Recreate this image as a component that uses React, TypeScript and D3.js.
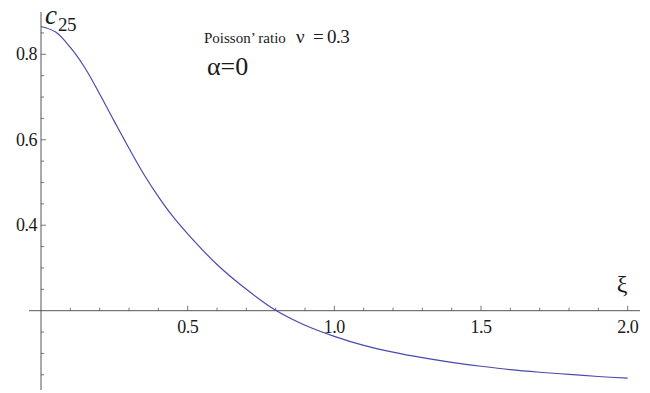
import React from "react";
import * as d3 from "d3";

// c25 as a function of ξ (Poisson ratio ν = 0.3, α = 0)
const xi = [0, 0.05, 0.1, 0.15, 0.2, 0.25, 0.3, 0.35, 0.4, 0.45, 0.5, 0.6, 0.7, 0.8, 0.9, 1.0, 1.1, 1.2, 1.3, 1.4, 1.5, 1.6, 1.7, 1.8, 1.9, 2.0];
const c25 = [0.865, 0.852, 0.816, 0.768, 0.707, 0.643, 0.58, 0.52, 0.467, 0.42, 0.38, 0.308, 0.25, 0.201, 0.166, 0.14, 0.119, 0.103, 0.09, 0.079, 0.07, 0.062, 0.056, 0.051, 0.046, 0.042];

const xMajorTicks = [0.5, 1.0, 1.5, 2.0];
const yMajorTicks = [0.4, 0.6, 0.8];
const xMinorStep = 0.1;
const yMinorStep = 0.05;
const axisOriginY = 0.2;

const W = 650;
const H = 393;

const SERIF = "Liberation Serif";

export default function App() {
  const x = d3.scaleLinear().domain([0, 2]).range([41, 627.7]);
  const y = d3.scaleLinear().domain([0.2, 0.8]).range([310.7, 54.3]);
  const xDomainAxis: [number, number] = [x.invert(29), x.invert(640)];
  const yDomainAxis: [number, number] = [y.invert(390), y.invert(12)];

  const pts = xi.map((v, i) => [v, c25[i]] as [number, number]);
  const line = d3
    .line<[number, number]>()
    .x((d) => x(d[0]))
    .y((d) => y(d[1]))
    .curve(d3.curveCatmullRom.alpha(0.5));

  const xMinor = d3.range(1, 21).map((k) => k * xMinorStep);
  const yMinor = d3
    .range(1, 18)
    .map((k) => k * yMinorStep)
    .filter((v) => Math.abs(v - axisOriginY) > 1e-6 && v >= yDomainAxis[0] && v <= yDomainAxis[1]);

  const axisColor = "#555";
  const y0 = y(axisOriginY);
  const x0 = x(0);

  return (
    <svg width={W} height={H} style={{ position: "absolute", left: 0, top: 0, background: "#fff" }}>
      {/* x axis */}
      <line x1={x(xDomainAxis[0])} x2={x(xDomainAxis[1])} y1={y0} y2={y0} stroke={axisColor} strokeWidth={1} />
      {xMinor.map((v, i) => {
        const major = xMajorTicks.some((m) => Math.abs(m - v) < 1e-6);
        return (
          <line key={"xm" + i} x1={x(v)} x2={x(v)} y1={y0} y2={y0 - (major ? 5 : 3)} stroke={axisColor} strokeWidth={0.8} />
        );
      })}
      {xMajorTicks.map((v) => (
        <text key={"xl" + v} x={x(v)} y={y0 + 22} textAnchor="middle" fontSize={18} fill="#1a1a1a" fontFamily={SERIF} letterSpacing={-0.5}>
          {v.toFixed(1)}
        </text>
      ))}

      {/* y axis */}
      <line x1={x0} x2={x0} y1={y(yDomainAxis[0])} y2={y(yDomainAxis[1])} stroke={axisColor} strokeWidth={1} />
      {yMinor.map((v, i) => {
        const major = yMajorTicks.some((m) => Math.abs(m - v) < 1e-6);
        return (
          <line key={"ym" + i} x1={x0} x2={x0 + (major ? 5 : 3)} y1={y(v)} y2={y(v)} stroke={axisColor} strokeWidth={0.8} />
        );
      })}
      {yMajorTicks.map((v) => (
        <text key={"yl" + v} x={x0 - 4} y={y(v) + 6} textAnchor="end" fontSize={18} fill="#1a1a1a" fontFamily={SERIF} letterSpacing={-0.5}>
          {v.toFixed(1)}
        </text>
      ))}

      {/* curve */}
      <path d={line(pts) || ""} fill="none" stroke="#4a4aae" strokeWidth={1.2} />

      {/* axis labels */}
      <text x={45} y={24} fontSize={27} fontStyle="italic" fill="#1a1a1a" fontFamily={SERIF}>
        c
      </text>
      <text x={58} y={31} fontSize={19} fill="#1a1a1a" fontFamily={SERIF} letterSpacing={-0.5}>
        25
      </text>
      <text x={622} y={292} textAnchor="middle" fontSize={24} fill="#1a1a1a" fontFamily={SERIF}>ξ</text>

      {/* annotations */}
      <text x={204} y={43} fontSize={15} fill="#1a1a1a" fontFamily={SERIF}>
        Poisson’ ratio
      </text>
      <text x={296} y={43} fontSize={19} fill="#1a1a1a" fontFamily={SERIF}>ν</text>
      <text x={313} y={43} fontSize={19} fill="#1a1a1a" fontFamily={SERIF}>=</text>
      <text x={327} y={43} fontSize={19} fill="#1a1a1a" fontFamily={SERIF} letterSpacing={-0.5}>0.3</text>
      <text x={207} y={75} fontSize={26} fill="#1a1a1a" fontFamily={SERIF}>α=0</text>
    </svg>
  );
}
